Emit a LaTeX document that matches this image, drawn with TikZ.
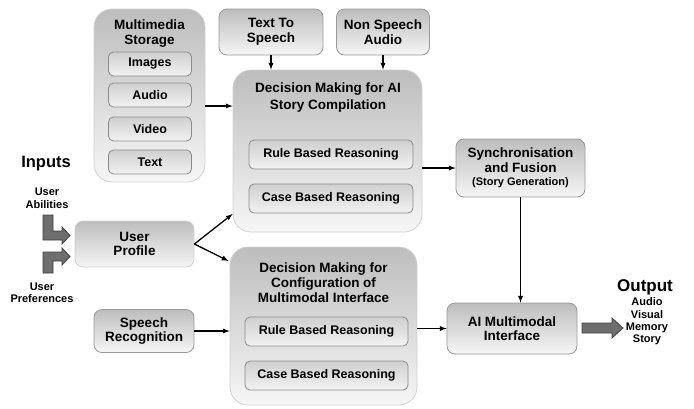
\documentclass[tikz,border=0pt]{standalone}
\usepackage{fontspec}
\setmainfont{Liberation Sans}
\usepackage{tikz}

\definecolor{boxtop}{HTML}{BDBDBD}
\definecolor{boxbot}{HTML}{F6F6F6}
\definecolor{rimgray}{HTML}{D2D2D2}
\definecolor{cardrim}{HTML}{9A9A9A}
\definecolor{slottop}{HTML}{CFCFCF}
\definecolor{slotbot}{HTML}{F2F2F2}
\definecolor{slotrim}{HTML}{8C8C8C}
\definecolor{blockgray}{HTML}{6E6E6E}

\begin{document}
\begin{tikzpicture}[
            x=1pt, y=-1pt,
            panel/.style={draw=rimgray, line width=0.8pt, rounded corners=18pt, top color=boxtop, bottom color=boxbot, inner sep=0pt},
            card/.style={draw=cardrim, line width=0.8pt, rounded corners=8pt, top color=boxtop, bottom color=boxbot, inner sep=0pt, align=center, font=\fontsize{13.5}{14.5}\bfseries\selectfont},
            slot/.style={draw=slotrim, line width=0.8pt, rounded corners=5pt, top color=slottop, bottom color=slotbot, inner sep=0pt, font=\fontsize{12.5}{14}\bfseries\selectfont},
            heading/.style={align=center, inner sep=0pt, font=\fontsize{13.5}{15}\bfseries\selectfont},
            note/.style={align=center, inner sep=0pt, font=\fontsize{11}{12.5}\bfseries\selectfont},
            link/.style={-latex, line width=1.3pt},
            bigarrow/.style={draw=black!75, fill=blockgray, line width=0.8pt}
        ]
            \useasboundingbox (0,0) rectangle (694,408);

            \node [panel, minimum width=111pt, minimum height=173pt] (store) at (149.5,95.5) {};
            \node [heading] (storetitle) at (149.5,34) {Multimedia\\Storage};
            \foreach \name/\y/\txt in {img/64/Images, aud/95/Audio, vid/129/Video, txt/162/Text} {
                \node [slot, minimum width=83pt, minimum height=24pt] (\name) at (150,\y) {\txt};
            }

            \node [card, minimum width=104pt, minimum height=46pt] (tts) at (271,32) {Text To\\Speech};
            \node [card, minimum width=93pt, minimum height=46pt] (nsa) at (383,32) {Non Speech\\Audio};

            \node [panel, minimum width=189pt, minimum height=162pt] (dmstory) at (327.5,151) {};
            \node [heading, font=\fontsize{13.5}{17}\bfseries\selectfont] (dmstorytitle) at (328,98) {Decision Making for AI\\Story Compilation};
            \node [slot, minimum width=164pt, minimum height=29pt] (rule1) at (331,154.5) {Rule Based Reasoning};
            \node [slot, minimum width=164pt, minimum height=29pt] (case1) at (331,198.5) {Case Based Reasoning};

            \node [panel, minimum width=187pt, minimum height=158pt] (dmconf) at (323.5,326) {};
            \node [heading] (dmconftitle) at (323.5,283) {Decision Making for\\Configuration of\\Multimodal Interface};
            \node [slot, minimum width=163pt, minimum height=29pt] (rule2) at (326.5,331.5) {Rule Based Reasoning};
            \node [slot, minimum width=163pt, minimum height=29pt] (case2) at (326.5,375.5) {Case Based Reasoning};

            \node [card, minimum width=119pt, minimum height=46pt, draw=rimgray] (profile) at (134.5,244) {User\\Profile};
            \node [card, minimum width=100pt, minimum height=43pt] (speech) at (144,331) {Speech\\Recognition};

            \node [card, minimum width=129pt, minimum height=58pt] (sync) at (520.5,168) {Synchronisation\\and Fusion\\[-1pt]{\fontsize{11}{12}\selectfont (Story Generation)}};
            \node [card, minimum width=130pt, minimum height=51pt] (aimi) at (512,328.5) {AI Multimodal\\Interface};

            \node [inner sep=0pt, font=\fontsize{16.5}{18}\bfseries\selectfont] (inputs) at (46,164) {Inputs};
            \node [note] (abil) at (47,198.5) {User\\Abilities};
            \node [note] (pref) at (42,293) {User\\Preferences};
            \node [inner sep=0pt, font=\fontsize{17}{18}\bfseries\selectfont] (output) at (645,287) {Output};
            \node [note, font=\fontsize{11}{12.3}\bfseries\selectfont] (outtext) at (647,321.5) {Audio\\Visual\\Memory\\Story};

            \draw [bigarrow] (43,215) -- (53,215) -- (53,231) -- (62,231) -- (62,227) -- (70,235.5) -- (62,244) -- (62,240) -- (43,240) -- cycle;
            \draw [bigarrow] (43,273) -- (53,273) -- (53,261) -- (62,261) -- (62,265) -- (70,256.5) -- (62,248) -- (62,252) -- (43,252) -- cycle;
            \draw [bigarrow] (582,323) -- (612,323) -- (612,318) -- (623,328) -- (612,338) -- (612,333) -- (582,333) -- cycle;

            \draw [link] (store.east|-0,106) -- (dmstory.west|-0,106);
            \draw [link] (tts.south) -- (tts.south|-dmstory.north);
            \draw [link] (nsa.south) -- (nsa.south|-dmstory.north);
            \draw [link] (dmstory.east|-sync) -- (sync.west);
            \draw [link] (sync.south) -- (sync.south|-aimi.north);
            \draw [link] (speech.east) -- (speech.east-|dmconf.west);
            \draw [link] (dmconf.east|-aimi) -- (aimi.west);
            \draw [link] (profile.east) -- ([yshift=-63pt]dmstory.west);
            \draw [link] (profile.east) -- ([yshift=65pt,xshift=-1pt]dmconf.west);
        \end{tikzpicture}
\end{document}
